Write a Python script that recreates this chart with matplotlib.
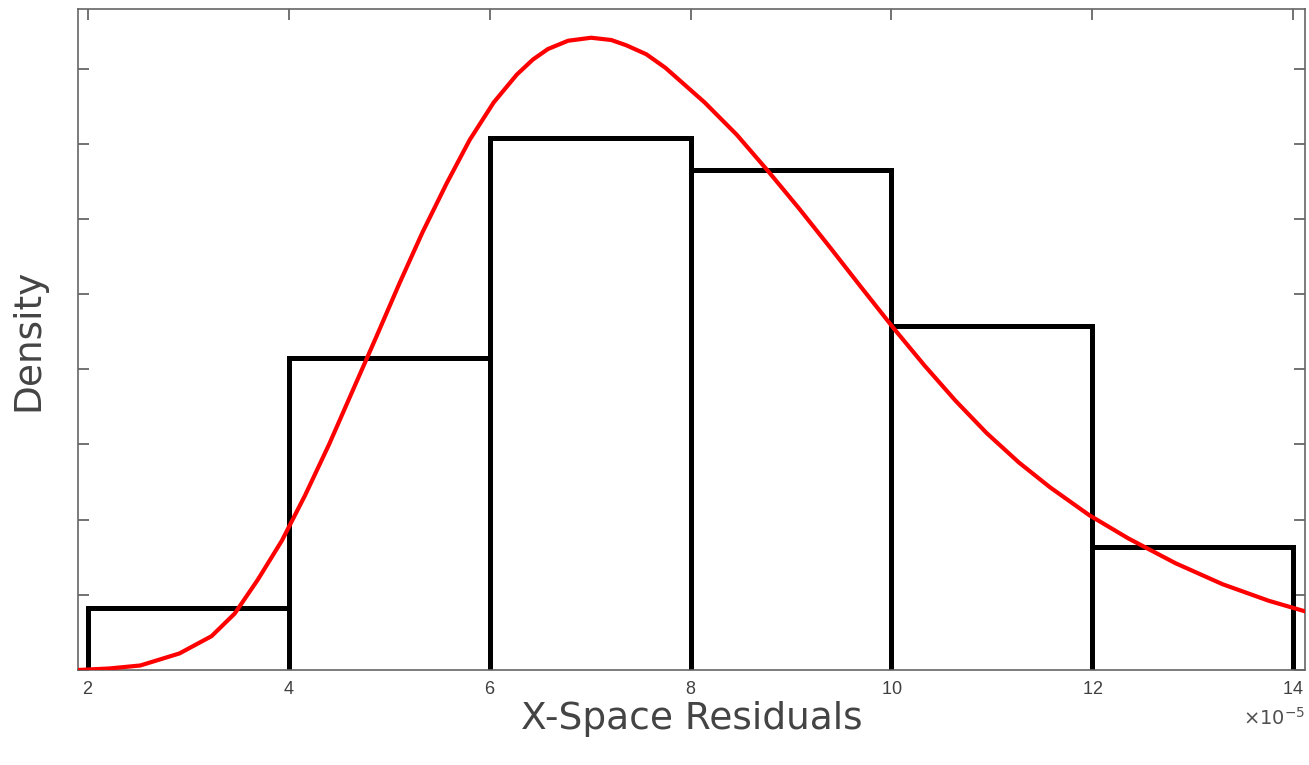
import numpy as np
import matplotlib.pyplot as plt
from matplotlib.ticker import ScalarFormatter

# histogram bins (x in units of 1e-5) and bar heights
bin_edges = [2, 4, 6, 8, 10, 12, 14]
bar_heights = [0.83, 4.15, 7.07, 6.65, 4.57, 1.64]

# fitted density curve
curve_x = [1.90, 2.21, 2.52, 2.91, 3.23, 3.46, 3.69, 3.93, 4.16, 4.40,
           4.63, 4.87, 5.10, 5.33, 5.57, 5.80, 6.04, 6.27, 6.43, 6.58,
           6.78, 7.01, 7.21, 7.36, 7.56, 7.75, 8.14, 8.46, 8.77, 9.08,
           9.39, 9.70, 10.02, 10.33, 10.64, 10.95, 11.27, 11.58, 11.97,
           12.36, 12.83, 13.30, 13.76, 14.12]
curve_y = [0.00, 0.02, 0.06, 0.22, 0.45, 0.75, 1.20, 1.72, 2.32, 3.00,
           3.70, 4.43, 5.14, 5.82, 6.47, 7.05, 7.55, 7.92, 8.12, 8.26,
           8.37, 8.41, 8.38, 8.31, 8.19, 8.01, 7.55, 7.12, 6.64, 6.14,
           5.62, 5.09, 4.55, 4.05, 3.58, 3.15, 2.76, 2.43, 2.06,
           1.75, 1.42, 1.14, 0.92, 0.78]

x_ticks = [2, 4, 6, 8, 10, 12, 14]
scale = 1e-5

fig = plt.figure(figsize=(13.09, 7.65), dpi=100)
ax = fig.add_axes([0.0596, 0.1242, 0.9374, 0.8638])

edges = np.array(bin_edges) * scale
for left, right, h in zip(edges[:-1], edges[1:], bar_heights):
    ax.plot([left, left, right, right], [0, h, h, 0], color='black',
            lw=3.6, solid_joinstyle='miter', zorder=2)

ax.plot(np.array(curve_x) * scale, curve_y, color='red', lw=3.0, zorder=3,
        solid_joinstyle='round')

ax.set_xlim(1.90 * scale, 14.12 * scale)
ax.set_ylim(0, 8.79)
ax.set_xticks(np.array(x_ticks) * scale)
ax.set_yticks(np.arange(0, 9))
ax.set_yticklabels([])

fmt = ScalarFormatter(useMathText=True)
fmt.set_powerlimits((-5, -5))
ax.xaxis.set_major_formatter(fmt)
ax.xaxis.get_offset_text().set_visible(False)
ax.text(1.0, -0.056, r'$\times 10^{-5}$', transform=ax.transAxes,
        ha='right', va='top', fontsize=14, color='#505050')

ax.tick_params(direction='in', length=8, width=1.2, colors='#5a5a5a',
               top=True, right=True, labelsize=13, labelcolor='#404040',
               pad=8)
for lab in ax.get_xticklabels():
    lab.set_family('Liberation Sans')
for sp in ax.spines.values():
    sp.set_color('#666666')
    sp.set_linewidth(1.2)

ax.set_xlabel('X-Space Residuals', fontsize=27, color='#444444', labelpad=2)
ax.set_ylabel('Density', fontsize=27, color='#444444', labelpad=15)

plt.savefig('out.png', dpi=100)
